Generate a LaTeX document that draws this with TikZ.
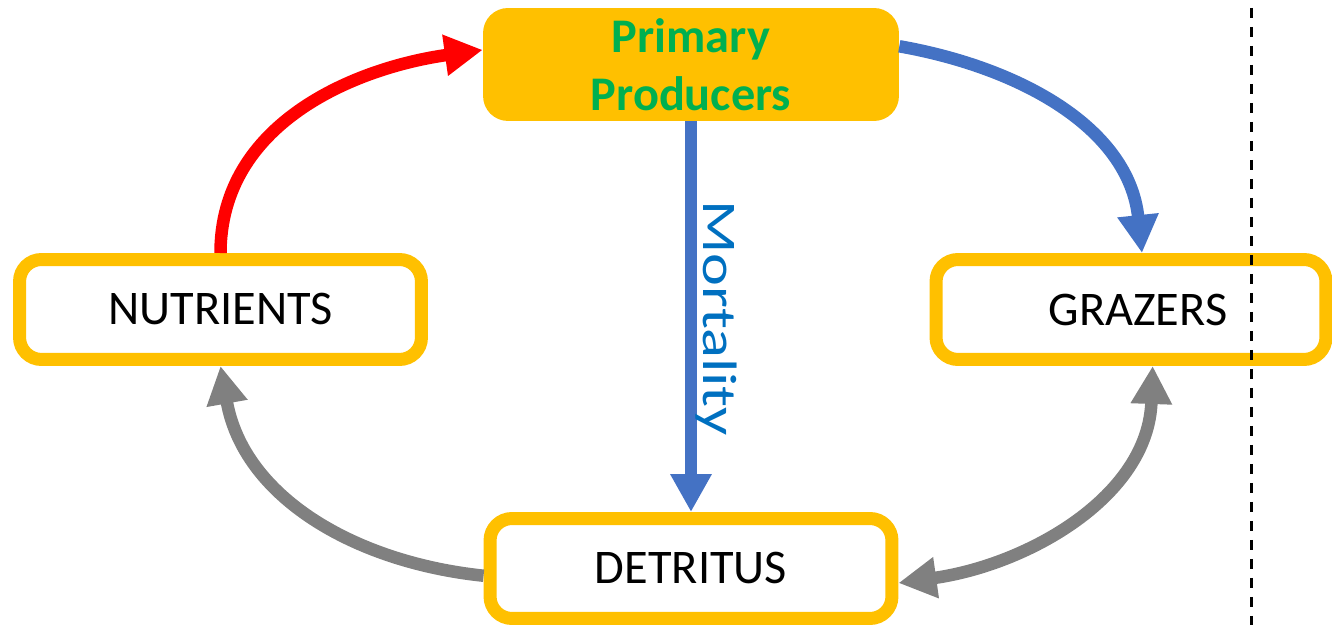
\documentclass[tikz,border=0pt]{standalone}
\usepackage{fontspec}
\setmainfont{Carlito}
\usepackage{xcolor}
\usepackage{tikz}
\usetikzlibrary{arrows.meta}

\definecolor{poolgold}{HTML}{FFC000}
\definecolor{prodgreen}{HTML}{00B050}
\definecolor{flowblue}{HTML}{4472C4}
\definecolor{mortblue}{HTML}{0070C0}
\definecolor{flowgrey}{HTML}{808080}

\begin{document}
\begin{tikzpicture}[x=0.02cm, y=0.02cm,
    pool/.style={draw=poolgold, line width=0.26cm, rounded corners=0.44cm, fill=white,
        minimum width=8.04cm, minimum height=2cm, font=\fontsize{27.5}{31}\selectfont},
    flow/.style={line width=0.25cm, -{Triangle[length=0.76cm, width=0.78cm]}}]
    \useasboundingbox (0,0) rectangle (1332,625);
    % Pools
    \node[fill=poolgold, rounded corners=0.5cm, minimum width=8.32cm, minimum height=2.26cm,
        align=center, text=prodgreen, font=\bfseries\fontsize{27.5}{33}\selectfont]
        (prod) at (691,560.5) {Primary\\Producers};
    \node[pool] (nutr) at (220.5,315.5) {NUTRIENTS};
    \node[pool, minimum width=7.8cm] (graz) at (1131,315.5) {\hspace*{0.28cm}GRAZERS};
    \node[pool] (detr) at (691,56.5) {DETRITUS};
    % Flows
    % uptake of nutrients
    \draw[flow, red] (nutr.north) to[out=90, in=188] (prod.176);
    % grazing
    \draw[flow, flowblue] (prod.5) to[out=-10, in=96] (graz.79);
    % mortality
    \draw[flow, flowblue] (prod.south) -- (detr.north);
    \node[text=mortblue, rotate=-90, anchor=base, font=\fontsize{27.5}{31}\selectfont]
        (mort) at (703,307) {\scalebox{1.29}[1]{Mortality}};
    % remineralisation
    \draw[flow, flowgrey] (detr.182) to[out=174, in=-80] (nutr.south);
    % grazers <-> detritus
    \draw[flow, flowgrey, {Triangle[length=0.76cm, width=0.78cm]}-{Triangle[length=0.76cm, width=0.78cm]}]
        (detr.-4) to[out=8, in=-92] (graz.-69);
    % Boundary
    \draw[line width=0.06cm, dash pattern=on 0.2cm off 0.18cm, dash phase=0.22cm] (1251,625) -- (1251,0);
\end{tikzpicture}
\end{document}
